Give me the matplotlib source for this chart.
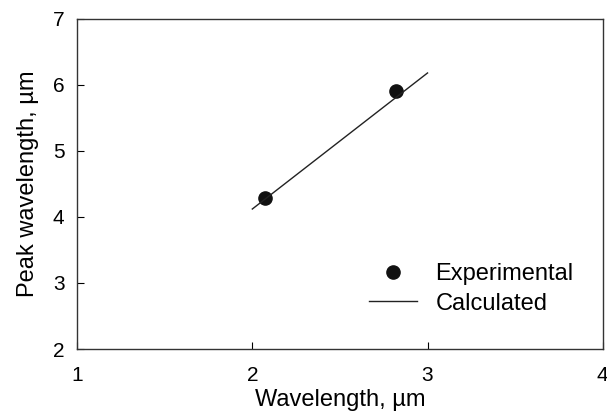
import numpy as np
import matplotlib.pyplot as plt

plt.rcParams['font.family'] = ['Liberation Sans', 'DejaVu Sans']

# experimental points
exp_x = [2.07, 2.82]
exp_y = [4.28, 5.90]
# calculated line
calc_x = [2.0, 3.0]
calc_y = [4.12, 6.18]

xticks = [1, 2, 3, 4]
yticks = [2, 3, 4, 5, 6, 7]

fig = plt.figure(figsize=(6.07, 4.18), dpi=100)
ax = fig.add_axes([0.127, 0.165, 0.866, 0.79])

ax.plot(exp_x, exp_y, 'o', color='#111111', markersize=9.5, label='Experimental')
ax.plot(calc_x, calc_y, '-', color='#222222', linewidth=1, label='Calculated')

ax.set_xlim(1, 4)
ax.set_ylim(2, 7)
ax.set_xticks(xticks)
ax.set_yticks(yticks)
ax.tick_params(direction='in', length=5, width=0.8, labelsize=15, pad=9)
ax.tick_params(axis='x', pad=12)
for s in ax.spines.values():
    s.set_linewidth(1)
    s.set_color('#333333')

ax.set_xlabel('Wavelength, \u00b5m', fontsize=17, labelpad=3)
ax.set_ylabel('Peak wavelength, \u00b5m', fontsize=17, labelpad=10)

ax.legend(loc='lower right', bbox_to_anchor=(0.985, 0.04), frameon=False,
          fontsize=17, handlelength=2.0, handletextpad=0.8, labelspacing=0.32)

plt.savefig('out.png', dpi=100)
